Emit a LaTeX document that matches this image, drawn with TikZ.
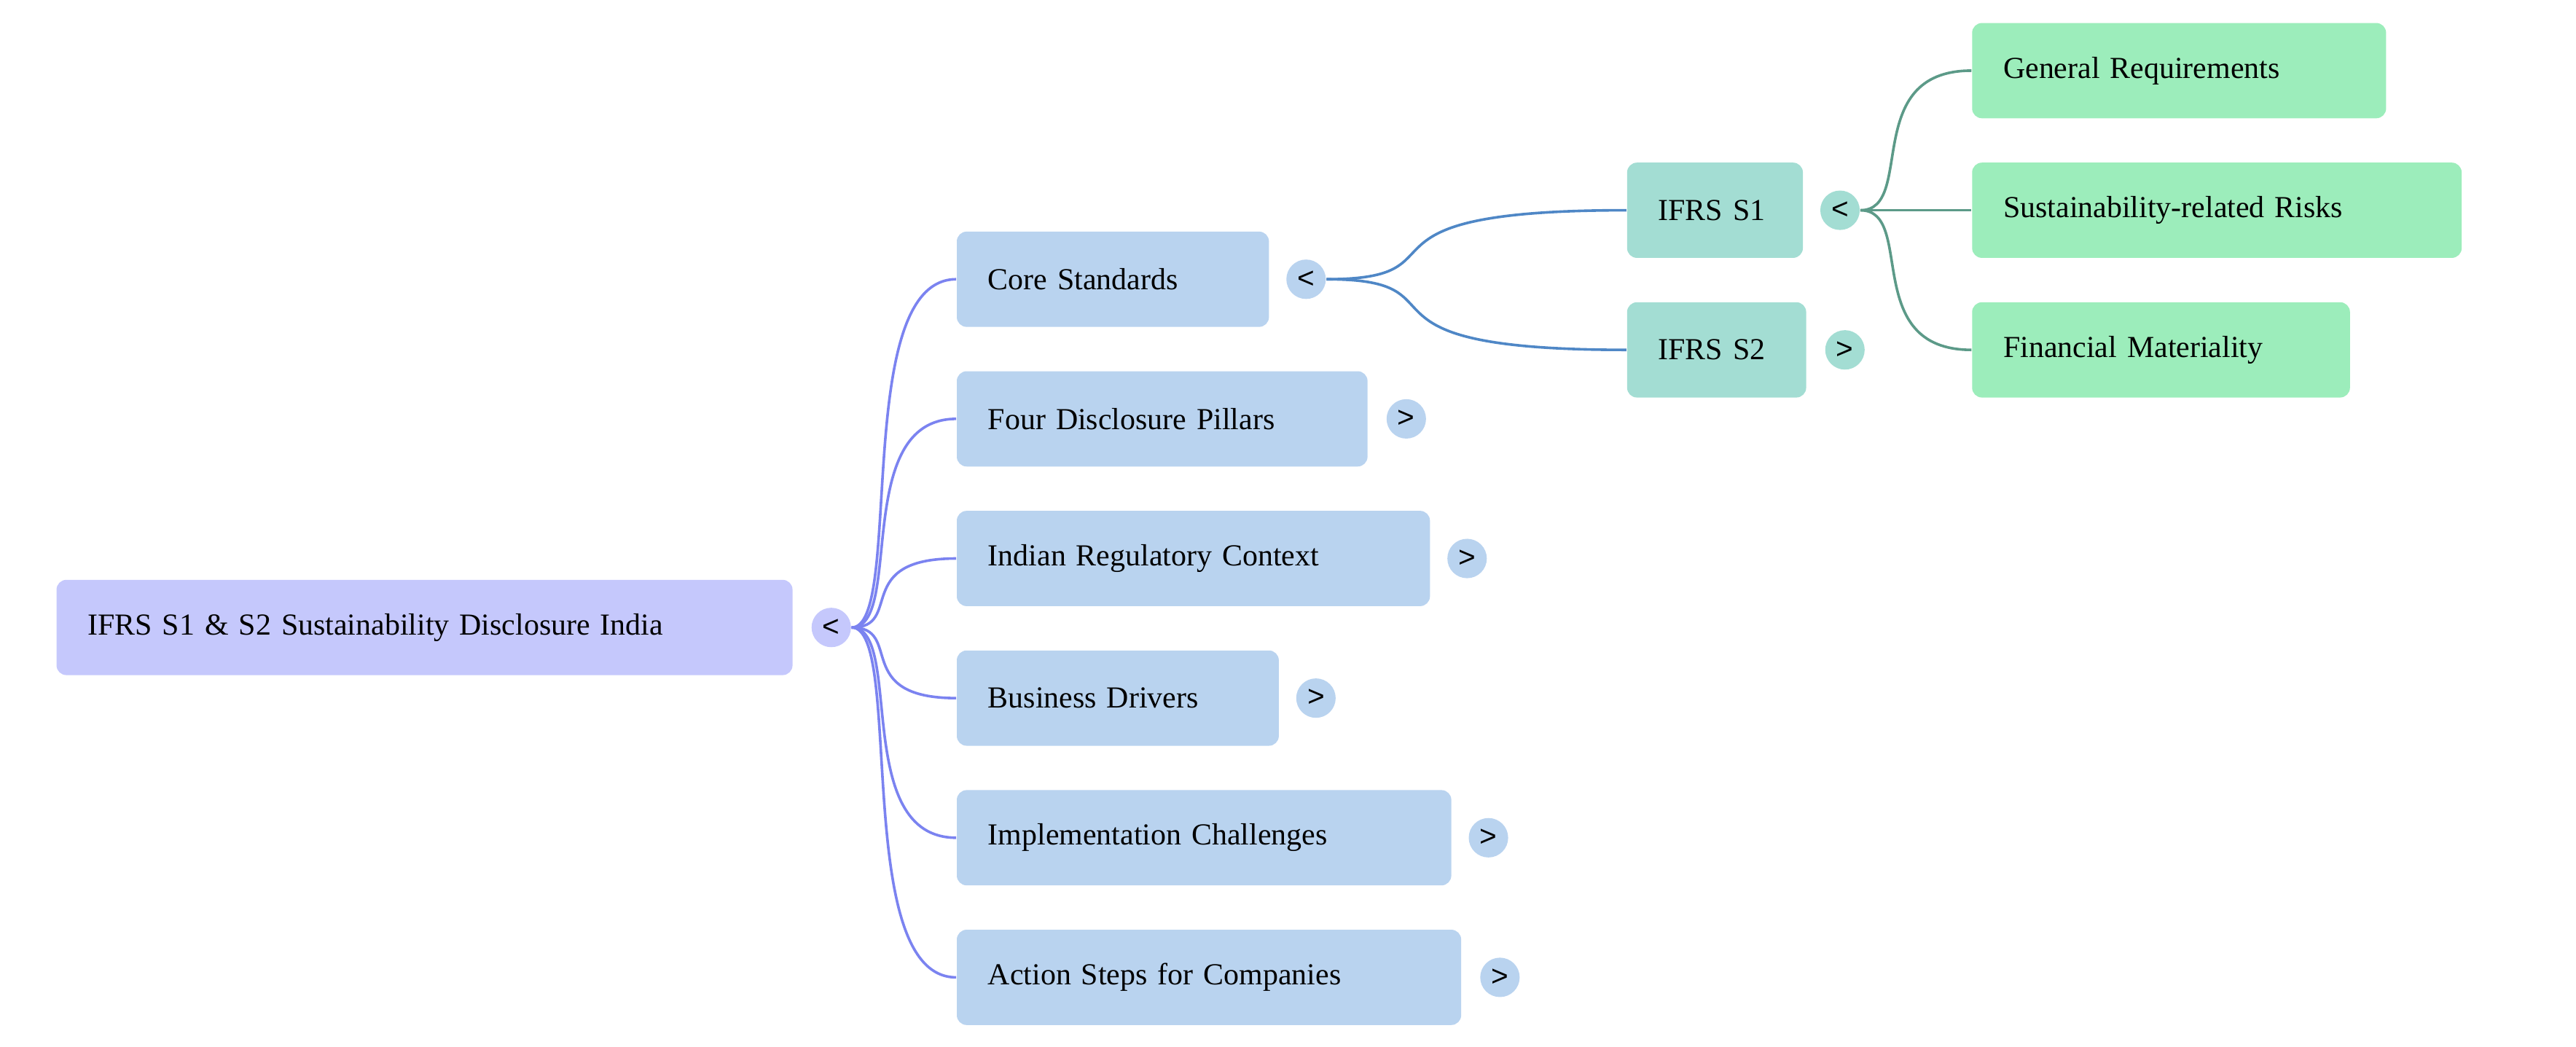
\documentclass[tikz,border=0pt]{standalone}
\usepackage{fontspec}
\setmainfont{Liberation Serif}
\setsansfont{Liberation Sans}
\begin{document}
\begin{tikzpicture}[x=0.5pt,y=-0.5pt,
 box/.style={rectangle,rounded corners=3pt,minimum height=29pt,inner xsep=9.5pt,inner ysep=0pt,anchor=west,align=left,text width=#1,font=\fontsize{9.3}{11}\selectfont},
 tog/.style={circle,minimum size=12pt,inner sep=0pt,font=\sffamily\fontsize{9}{10}\selectfont},
 e0/.style={draw=#1,line width=0.8pt}]
\useasboundingbox (0,0) rectangle (1568,637);
\definecolor{croot}{HTML}{C5C8FC}\definecolor{cl1}{HTML}{B9D3EF}
\definecolor{cl2}{HTML}{A3DDD3}\definecolor{cl3}{HTML}{9CEDBB}
\definecolor{ea}{HTML}{7B83F0}\definecolor{eb}{HTML}{4F87C6}\definecolor{ec}{HTML}{5C9A88}
\node[box=205pt,fill=croot] (root) at (34,382) {IFRS S1 \& S2 Sustainability Disclosure India};
\node[tog,fill=croot] (t0) at (506,382) {<};
\node[box=76pt,fill=cl1] (a1) at (582,170) {Core Standards};
\node[box=106pt,fill=cl1] (a2) at (582,255) {Four Disclosure Pillars};
\node[box=125pt,fill=cl1] (a3) at (582,340) {Indian Regulatory Context};
\node[box=79pt,fill=cl1] (a4) at (582,425) {Business Drivers};
\node[box=131.5pt,fill=cl1] (a5) at (582,510) {Implementation Challenges};
\node[box=134.5pt,fill=cl1] (a6) at (582,595) {Action Steps for Companies};
\node[tog,fill=cl1] (t1) at (795,170) {<};
\node[tog,fill=cl1] (t2) at (856,255) {>};
\node[tog,fill=cl1] (t3) at (893,340) {>};
\node[tog,fill=cl1] (t4) at (801,425) {>};
\node[tog,fill=cl1] (t5) at (906,510) {>};
\node[tog,fill=cl1] (t6) at (913,595) {>};
\node[box=34.5pt,fill=cl2] (b1) at (990,128) {IFRS S1};
\node[box=35.5pt,fill=cl2] (b2) at (990,213) {IFRS S2};
\node[tog,fill=cl2] (u1) at (1120,128) {<};
\node[tog,fill=cl2] (u2) at (1123,213) {>};
\node[box=107pt,fill=cl3] (c1) at (1200,43) {General Requirements};
\node[box=130pt,fill=cl3] (c2) at (1200,128) {Sustainability-related Risks};
\node[box=96pt,fill=cl3] (c3) at (1200,213) {Financial Materiality};
\foreach \n in {a1,a2,a3,a4,a5,a6}
  \draw[e0=ea] (t0.east) .. controls +(32,0) and ([xshift=-32]\n.west) .. (\n.west);
\foreach \n in {b1,b2}
  \draw[e0=eb] (t1.east) .. controls +(90,0) and ([xshift=-90]\n.west) .. (\n.west);
\foreach \n in {c1,c2,c3}
  \draw[e0=ec] (u1.east) .. controls +(34,0) and ([xshift=-34]\n.west) .. (\n.west);
\end{tikzpicture}
\end{document}
